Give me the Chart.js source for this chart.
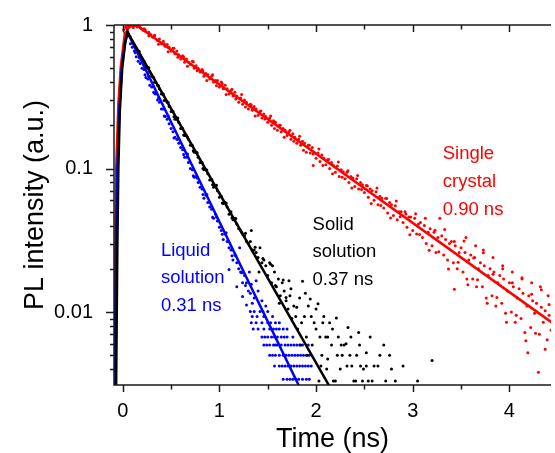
<!DOCTYPE html>
<html>
<head>
<meta charset="utf-8">
<script src="https://cdn.jsdelivr.net/npm/chart.js@4.4.1/dist/chart.umd.min.js"></script>
<style>
  html, body { margin: 0; padding: 0; background: #fff; }
  #wrap { width: 555px; height: 453px; }
</style>
</head>
<body>
<div id="wrap"><canvas id="decay" width="555" height="453"></canvas></div>
<script>
// axis ranges and ticks
var xMin = -0.09, xMax = 4.43;
var yMin = 0.0031, yMax = 1;
var xTickValues = [0, 0.5, 1, 1.5, 2, 2.5, 3, 3.5, 4];
var yTickValues = [0.004, 0.005, 0.006, 0.007, 0.008, 0.009, 0.01,
  0.02, 0.03, 0.04, 0.05, 0.06, 0.07, 0.08, 0.09, 0.1,
  0.2, 0.3, 0.4, 0.5, 0.6, 0.7, 0.8, 0.9, 1];
var yLabelled = [0.01, 0.1, 1];

// measured decays, [time ns, normalised PL]
var redPoints = [
  [0.01,0.93],[0.02,0.88],[0.03,0.97],[0.04,0.95],[0.05,1.0],[0.06,0.99],[0.07,0.97],[0.08,1.0],
  [0.09,1.0],[0.10,0.98],[0.11,0.96],[0.12,0.99],[0.13,1.0],[0.15,0.97],[0.16,0.99],[0.17,1.0],
  [0.18,0.96],[0.19,0.95],[0.21,0.92],[0.22,0.94],[0.23,0.93],[0.24,0.90],[0.27,0.89],[0.27,0.84],
  [0.29,0.86],[0.31,0.82],[0.33,0.84],[0.33,0.85],[0.36,0.78],[0.37,0.735],[0.38,0.80],[0.40,0.74],
  [0.42,0.77],[0.43,0.74],[0.44,0.71],[0.46,0.73],[0.47,0.65],[0.48,0.70],[0.50,0.66],[0.52,0.69],
  [0.53,0.69],[0.54,0.63],[0.56,0.66],[0.57,0.595],[0.58,0.62],[0.60,0.58],[0.62,0.61],[0.63,0.60],
  [0.64,0.55],[0.66,0.58],[0.67,0.515],[0.68,0.55],[0.70,0.53],[0.72,0.56],[0.73,0.555],[0.74,0.50],
  [0.76,0.52],[0.77,0.48],[0.78,0.50],[0.80,0.47],[0.82,0.49],[0.83,0.478],[0.84,0.44],[0.86,0.46],
  [0.87,0.41],[0.88,0.45],[0.90,0.42],[0.92,0.44],[0.93,0.45],[0.94,0.40],[0.96,0.41],[0.97,0.377],
  [0.98,0.41],[1.00,0.37],[1.02,0.40],[1.03,0.39],[1.04,0.36],[1.06,0.38],[1.07,0.328],[1.08,0.36],
  [1.10,0.33],[1.12,0.35],[1.13,0.356],[1.14,0.32],[1.16,0.34],[1.17,0.305],[1.18,0.32],[1.20,0.29],
  [1.22,0.31],[1.23,0.328],[1.24,0.28],[1.26,0.30],[1.27,0.268],[1.28,0.29],[1.30,0.26],[1.32,0.28],
  [1.33,0.277],[1.34,0.255],[1.36,0.27],[1.37,0.232],[1.38,0.26],[1.40,0.235],[1.42,0.25],[1.43,0.252],
  [1.44,0.225],[1.46,0.24],[1.47,0.221],[1.48,0.23],[1.50,0.21],[1.52,0.225],[1.53,0.232],[1.54,0.20],
  [1.56,0.215],[1.57,0.19],[1.58,0.21],[1.60,0.185],[1.62,0.20],[1.63,0.20],[1.64,0.18],[1.66,0.19],
  [1.67,0.165],[1.68,0.185],[1.70,0.17],[1.72,0.18],[1.73,0.185],[1.74,0.16],[1.76,0.175],[1.77,0.155],
  [1.78,0.165],[1.80,0.15],[1.82,0.16],[1.83,0.168],[1.84,0.145],[1.86,0.155],[1.87,0.134],[1.88,0.15],
  [1.90,0.13],[1.92,0.145],[1.93,0.145],[1.94,0.128],[1.96,0.14],[1.97,0.105],[1.97,0.126],[1.98,0.13],
  [2.00,0.118],[2.02,0.128],[2.03,0.137],[2.04,0.112],[2.06,0.124],[2.07,0.105],[2.08,0.118],[2.10,0.106],
  [2.12,0.115],[2.13,0.1155],[2.14,0.10],[2.16,0.11],[2.17,0.092],[2.18,0.105],[2.20,0.094],[2.22,0.104],
  [2.23,0.111],[2.24,0.088],[2.26,0.098],[2.27,0.087],[2.28,0.095],[2.30,0.085],[2.32,0.094],[2.33,0.0965],
  [2.34,0.08],[2.36,0.088],[2.37,0.073],[2.38,0.086],[2.40,0.075],[2.42,0.085],[2.43,0.0895],[2.44,0.072],
  [2.46,0.08],[2.47,0.0713],[2.48,0.077],[2.50,0.068],[2.52,0.076],[2.53,0.0758],[2.54,0.063],[2.56,0.072],
  [2.57,0.0571],[2.58,0.07],[2.60,0.06],[2.62,0.069],[2.63,0.073],[2.64,0.056],[2.66,0.064],[2.67,0.0553],
  [2.68,0.062],[2.70,0.053],[2.72,0.062],[2.73,0.0618],[2.74,0.049],[2.76,0.058],[2.77,0.0452],[2.78,0.056],
  [2.80,0.047],[2.82,0.055],[2.83,0.0594],[2.84,0.044],[2.86,0.05],[2.87,0.0462],[2.88,0.05],[2.90,0.042],
  [2.92,0.05],[2.93,0.0482],[2.94,0.039],[2.96,0.046],[2.97,0.0345],[2.98,0.046],[3.00,0.037],[3.02,0.045],
  [3.03,0.0484],[3.04,0.035],[3.06,0.041],[3.07,0.0347],[3.08,0.042],[3.10,0.033],[3.12,0.040],[3.13,0.045],
  [3.14,0.03],[3.16,0.036],[3.17,0.0269],[3.18,0.038],[3.20,0.029],[3.22,0.036],[3.23,0.0371],[3.24,0.026],
  [3.26,0.033],[3.27,0.0263],[3.28,0.045],[3.30,0.034],[3.32,0.025],[3.33,0.0376],[3.34,0.032],[3.36,0.023],
  [3.37,0.0199],[3.38,0.03],[3.40,0.031],[3.42,0.022],[3.43,0.0144],[3.43,0.031],[3.44,0.029],[3.46,0.02],
  [3.47,0.0222],[3.48,0.026],[3.50,0.028],[3.52,0.019],[3.53,0.0312],[3.54,0.026],[3.55,0.033],[3.56,0.017],
  [3.57,0.0155],[3.58,0.023],[3.60,0.025],[3.62,0.017],[3.63,0.0238],[3.64,0.024],[3.65,0.029],[3.66,0.015],
  [3.67,0.0168],[3.68,0.02],[3.70,0.022],[3.72,0.015],[3.73,0.027],[3.73,0.0259],[3.74,0.021],[3.76,0.0125],
  [3.77,0.0115],[3.78,0.018],[3.80,0.02],[3.82,0.013],[3.83,0.024],[3.83,0.0183],[3.84,0.019],[3.86,0.011],
  [3.87,0.0126],[3.88,0.016],[3.90,0.018],[3.92,0.0115],[3.93,0.021],[3.93,0.020],[3.94,0.017],[3.96,0.0098],
  [3.97,0.0085],[3.98,0.014],[4.00,0.016],[4.02,0.010],[4.03,0.019],[4.03,0.016],[4.04,0.015],[4.06,0.0085],
  [4.07,0.0095],[4.08,0.0125],[4.10,0.0145],[4.12,0.009],[4.13,0.017],[4.13,0.0173],[4.14,0.0135],[4.16,0.0072],
  [4.17,0.0063],[4.18,0.011],[4.19,0.0052],[4.20,0.013],[4.22,0.0078],[4.23,0.016],[4.23,0.0133],[4.24,0.012],
  [4.26,0.0098],[4.27,0.0071],[4.28,0.0115],[4.30,0.0038],[4.31,0.007],[4.32,0.015],[4.33,0.0108],[4.33,0.0143],
  [4.35,0.0085],[4.37,0.0102],[4.37,0.0055],[4.39,0.0064],[4.40,0.013],[4.41,0.0095],[4.41,0.0113],[4.43,0.0075]
];
var blackPoints = [
  [0.03,0.85],[0.05,0.90],[0.06,0.87],[0.08,0.82],[0.10,0.76],[0.12,0.72],[0.13,0.695],[0.14,0.69],
  [0.16,0.65],[0.17,0.655],[0.18,0.62],[0.20,0.58],[0.22,0.56],[0.23,0.518],[0.24,0.52],[0.26,0.50],
  [0.27,0.504],[0.28,0.47],[0.30,0.44],[0.32,0.43],[0.33,0.399],[0.34,0.40],[0.36,0.38],[0.37,0.377],
  [0.38,0.36],[0.40,0.33],[0.42,0.33],[0.43,0.298],[0.44,0.30],[0.46,0.29],[0.47,0.29],[0.48,0.27],
  [0.50,0.25],[0.52,0.25],[0.53,0.229],[0.54,0.22],[0.56,0.22],[0.57,0.225],[0.58,0.21],[0.60,0.19],
  [0.62,0.19],[0.63,0.171],[0.64,0.17],[0.66,0.17],[0.67,0.165],[0.68,0.16],[0.70,0.145],[0.72,0.145],
  [0.73,0.133],[0.74,0.13],[0.76,0.13],[0.77,0.129],[0.78,0.12],[0.80,0.11],[0.82,0.11],[0.83,0.10],
  [0.84,0.098],[0.86,0.098],[0.87,0.0976],[0.88,0.092],[0.90,0.083],[0.92,0.084],[0.93,0.0772],[0.94,0.074],
  [0.96,0.075],[0.97,0.0765],[0.98,0.07],[1.00,0.063],[1.02,0.064],[1.03,0.0576],[1.04,0.057],[1.06,0.058],
  [1.07,0.0572],[1.08,0.054],[1.10,0.048],[1.12,0.05],[1.13,0.0453],[1.14,0.044],[1.16,0.045],[1.17,0.0448],
  [1.18,0.041],[1.20,0.038],[1.22,0.037],[1.23,0.036],[1.24,0.035],[1.26,0.034],[1.27,0.0354],[1.28,0.031],
  [1.30,0.030],[1.32,0.031],[1.33,0.037],[1.34,0.027],[1.36,0.027],[1.37,0.0283],[1.38,0.026],[1.40,0.024],
  [1.41,0.019],[1.42,0.028],[1.44,0.022],[1.45,0.0236],[1.46,0.023],[1.48,0.021],[1.50,0.018],[1.52,0.022],
  [1.53,0.0215],[1.54,0.016],[1.55,0.021],[1.57,0.019],[1.58,0.0153],[1.59,0.015],[1.61,0.017],[1.62,0.0115],
  [1.63,0.013],[1.65,0.016],[1.66,0.0167],[1.67,0.014],[1.69,0.012],[1.69,0.0126],[1.71,0.0105],[1.72,0.0165],
  [1.73,0.013],[1.74,0.0145],[1.75,0.009],[1.77,0.011],[1.79,0.0093],[1.80,0.0108],[1.81,0.0076],[1.83,0.0125],
  [1.84,0.0059],[1.85,0.0084],[1.86,0.0164],[1.88,0.0093],[1.89,0.0135],[1.90,0.0067],[1.91,0.005],[1.92,0.011],
  [1.94,0.0123],[1.95,0.0093],[1.96,0.0059],[1.98,0.0084],[2.00,0.0076],[2.00,0.0105],[2.02,0.0114],[2.03,0.0033],
  [2.04,0.0067],[2.05,0.0042],[2.06,0.005],[2.07,0.0084],[2.08,0.0093],[2.10,0.0067],[2.11,0.004],[2.12,0.0047],
  [2.12,0.0067],[2.14,0.0084],[2.16,0.0059],[2.17,0.0076],[2.18,0.0033],[2.20,0.0033],[2.21,0.0091],[2.22,0.005],
  [2.23,0.0067],[2.25,0.004],[2.26,0.0059],[2.27,0.005],[2.29,0.0059],[2.31,0.006],[2.32,0.0042],[2.33,0.0078],
  [2.35,0.005],[2.36,0.0067],[2.37,0.0042],[2.39,0.0033],[2.41,0.0033],[2.42,0.005],[2.44,0.0072],[2.45,0.0059],
  [2.46,0.0042],[2.48,0.0033],[2.49,0.004],[2.52,0.0052],[2.52,0.0042],[2.54,0.0033],[2.56,0.0067],[2.58,0.0033],
  [2.60,0.0042],[2.64,0.0042],[2.66,0.005],[2.70,0.0059],[2.72,0.0033],[2.76,0.005],[2.78,0.004],[2.82,0.0033],
  [2.90,0.0042],[3.05,0.0033],[3.20,0.0046]
];
var bluePoints = [
  [0.03,0.80],[0.05,0.85],[0.08,0.74],[0.10,0.70],[0.12,0.66],[0.13,0.64],[0.14,0.60],[0.16,0.56],
  [0.17,0.594],[0.18,0.54],[0.20,0.50],[0.22,0.49],[0.23,0.45],[0.24,0.43],[0.26,0.42],[0.27,0.44],
  [0.28,0.38],[0.30,0.37],[0.32,0.34],[0.33,0.334],[0.34,0.33],[0.36,0.30],[0.37,0.31],[0.38,0.29],
  [0.40,0.26],[0.42,0.26],[0.43,0.232],[0.44,0.23],[0.46,0.22],[0.47,0.232],[0.48,0.205],[0.50,0.19],
  [0.52,0.18],[0.53,0.163],[0.54,0.165],[0.56,0.16],[0.57,0.16],[0.58,0.15],[0.60,0.14],[0.62,0.135],
  [0.63,0.125],[0.64,0.12],[0.66,0.12],[0.67,0.126],[0.68,0.11],[0.70,0.10],[0.72,0.098],[0.73,0.089],
  [0.74,0.087],[0.76,0.088],[0.77,0.086],[0.78,0.08],[0.80,0.074],[0.82,0.072],[0.83,0.066],[0.84,0.062],
  [0.86,0.065],[0.87,0.066],[0.88,0.058],[0.90,0.054],[0.92,0.052],[0.93,0.0458],[0.94,0.045],[0.96,0.048],
  [0.97,0.046],[0.98,0.043],[1.00,0.039],[1.02,0.037],[1.03,0.0348],[1.04,0.032],[1.06,0.035],[1.07,0.0357],
  [1.08,0.031],[1.10,0.028],[1.10,0.0198],[1.12,0.027],[1.13,0.0247],[1.14,0.023],[1.16,0.025],[1.17,0.0247],
  [1.18,0.022],[1.18,0.015],[1.20,0.020],[1.21,0.028],[1.22,0.019],[1.23,0.0188],[1.24,0.016],[1.24,0.0128],
  [1.26,0.018],[1.27,0.0153],[1.28,0.016],[1.28,0.0112],[1.30,0.014],[1.31,0.019],[1.32,0.0135],[1.33,0.0156],
  [1.34,0.0115],[1.36,0.0125],[1.38,0.0165],[1.40,0.014],[1.44,0.012],[1.48,0.011],
  [1.32,0.0101],[1.36,0.0101],[1.42,0.0101],[1.45,0.0101],[1.50,0.0101],
  [1.34,0.0093],[1.39,0.0093],[1.46,0.0093],[1.55,0.0093],
  [1.33,0.0084],[1.38,0.0084],[1.44,0.0084],[1.50,0.0084],[1.53,0.0084],[1.58,0.0084],[1.62,0.0084],
  [1.35,0.0076],[1.40,0.0076],[1.46,0.0076],[1.52,0.0076],[1.56,0.0076],[1.59,0.0076],[1.62,0.0076],[1.66,0.0076],[1.70,0.0076],
  [1.44,0.0067],[1.47,0.0067],[1.50,0.0067],[1.54,0.0067],[1.57,0.0067],[1.60,0.0067],[1.64,0.0067],[1.67,0.0067],
  [1.70,0.0067],[1.76,0.0067],
  [1.46,0.0059],[1.49,0.0059],[1.52,0.0059],[1.56,0.0059],[1.58,0.0059],[1.60,0.0059],[1.64,0.0059],[1.68,0.0059],
  [1.71,0.0059],[1.74,0.0059],[1.77,0.0059],[1.80,0.0059],[1.83,0.0059],[1.86,0.0059],[1.92,0.0059],
  [1.52,0.005],[1.55,0.005],[1.58,0.005],[1.62,0.005],[1.66,0.005],[1.69,0.005],[1.72,0.005],[1.75,0.005],
  [1.78,0.005],[1.81,0.005],[1.84,0.005],[1.87,0.005],[1.90,0.005],[1.93,0.005],
  [1.57,0.0042],[1.62,0.0042],[1.65,0.0042],[1.68,0.0042],[1.71,0.0042],[1.74,0.0042],[1.77,0.0042],[1.80,0.0042],
  [1.83,0.0042],[1.86,0.0042],[1.89,0.0042],[1.92,0.0042],[1.95,0.0042],
  [1.66,0.0034],[1.70,0.0034],[1.73,0.0034],[1.76,0.0034],[1.79,0.0034],[1.82,0.0034],[1.86,0.0034],[1.90,0.0034],[1.93,0.0034]
];

// fitted curves (rise + single exponential)
var redFit = [[-0.09,0.0025],[-0.075,0.03],[-0.067,0.1],[-0.045,0.28],[-0.02,0.51],[0.02,0.85],[0.07,0.98],[0.14,1.0],[4.5,0.0079]];
var blackFit = [[-0.069,0.0025],[-0.055,0.03],[-0.045,0.1],[-0.03,0.25],[-0.005,0.5],[0.025,0.75],[0.05,0.89],[2.21,0.0025]];
var blueFit = [[-0.088,0.0025],[-0.07,0.03],[-0.055,0.1],[-0.035,0.25],[-0.01,0.5],[0.025,0.75],[0.05,0.89],[1.886,0.0025]];

// labels next to the curves, anchored in data units
var notes = [
  { lines: ['Single', 'crystal', '0.90 ns'], at: [3.31, 0.126], color: '#ff0000' },
  { lines: ['Solid', 'solution', '0.37 ns'], at: [1.964, 0.0406], color: '#000000' },
  { lines: ['Liquid', 'solution', '0.31 ns'], at: [0.395, 0.0268], color: '#0000ff' }
];

var FONT = 'Arial, "Liberation Sans", sans-serif';

function toXY(arr) {
  return arr.map(function(p) { return { x: p[0], y: p[1] }; });
}

function pointSet(data, color, order) {
  return {
    data: toXY(data), showLine: false, order: order,
    pointRadius: 1.5, pointBorderWidth: 0,
    pointBackgroundColor: color, borderColor: color
  };
}

function fitSet(data, color, order) {
  return {
    data: toXY(data), showLine: true, order: order,
    pointRadius: 0, borderWidth: 2.5, borderColor: color, tension: 0
  };
}

// frame, tick marks and curve labels
var framePlugin = {
  id: 'frame',
  afterDraw: function(chart) {
    var ctx = chart.ctx, a = chart.chartArea;
    var x = chart.scales.x, y = chart.scales.y;
    ctx.save();
    ctx.strokeStyle = '#1a1a1a';
    ctx.lineWidth = 1.5;
    ctx.beginPath();
    ctx.moveTo(a.left, a.top); ctx.lineTo(a.right, a.top);
    ctx.moveTo(a.left, a.top); ctx.lineTo(a.left, a.bottom); ctx.lineTo(a.right, a.bottom);
    xTickValues.forEach(function(v) {
      var px = Math.round(x.getPixelForValue(v)) + 0.5;
      var len = Number.isInteger(v) ? 7 : 4.5;
      ctx.moveTo(px, a.bottom); ctx.lineTo(px, a.bottom + len);
      ctx.moveTo(px, a.top); ctx.lineTo(px, a.top + len);
    });
    yTickValues.forEach(function(v) {
      var py = Math.round(y.getPixelForValue(v)) + 0.5;
      var len = yLabelled.includes(v) ? 8 : 4;
      ctx.moveTo(a.left, py); ctx.lineTo(a.left - len, py);
    });
    ctx.stroke();

    ctx.font = '18.5px ' + FONT;
    ctx.textBaseline = 'middle';
    ctx.textAlign = 'left';
    notes.forEach(function(n) {
      var px = x.getPixelForValue(n.at[0]);
      var py = y.getPixelForValue(n.at[1]);
      ctx.fillStyle = n.color;
      n.lines.forEach(function(t, i) { ctx.fillText(t, px, py + i * 27.7); });
    });
    ctx.restore();
  }
};

var chart = new Chart('decay', {
  type: 'scatter',
  data: {
    datasets: [
      fitSet(redFit, '#ff0000', 3),
      fitSet(blackFit, '#000000', 1),
      fitSet(blueFit, '#0000ff', 2),
      pointSet(redPoints, '#ff0000', 12),
      pointSet(bluePoints, '#0000ff', 11),
      pointSet(blackPoints, '#000000', 10)
    ]
  },
  options: {
    responsive: false,
    animation: false,
    layout: { padding: { top: 22, right: 0, bottom: 0, left: 0 } },
    plugins: { legend: { display: false }, tooltip: { enabled: false } },
    scales: {
      x: {
        type: 'linear', position: 'bottom', min: xMin, max: xMax,
        grid: { display: false }, border: { display: false },
        afterBuildTicks: function(s) { s.ticks = xTickValues.map(function(v) { return { value: v }; }); },
        afterFit: function(s) { s.height = 68; },
        ticks: {
          autoSkip: false, maxRotation: 0, padding: 6, color: '#000',
          font: { size: 20, family: FONT },
          callback: function(v) { return Number.isInteger(v) ? String(v) : ''; }
        },
        title: { display: true, text: 'Time (ns)', color: '#000', font: { size: 27, family: FONT, lineHeight: 1 }, padding: { top: 0, bottom: 0 } }
      },
      y: {
        type: 'logarithmic', position: 'left', min: yMin, max: yMax,
        grid: { display: false }, border: { display: false },
        afterBuildTicks: function(s) { s.ticks = yTickValues.map(function(v) { return { value: v }; }); },
        afterFit: function(s) { s.width = 114; },
        ticks: {
          autoSkip: false, padding: 13, color: '#000',
          font: { size: 20, family: FONT },
          callback: function(v) { return yLabelled.includes(v) ? String(v) : ''; }
        },
        title: { display: true, text: 'PL intensity (a.u.)', color: '#000', font: { size: 27, family: FONT }, padding: { top: 19, bottom: 0 } }
      }
    }
  },
  plugins: [framePlugin]
});
</script>
</body>
</html>
